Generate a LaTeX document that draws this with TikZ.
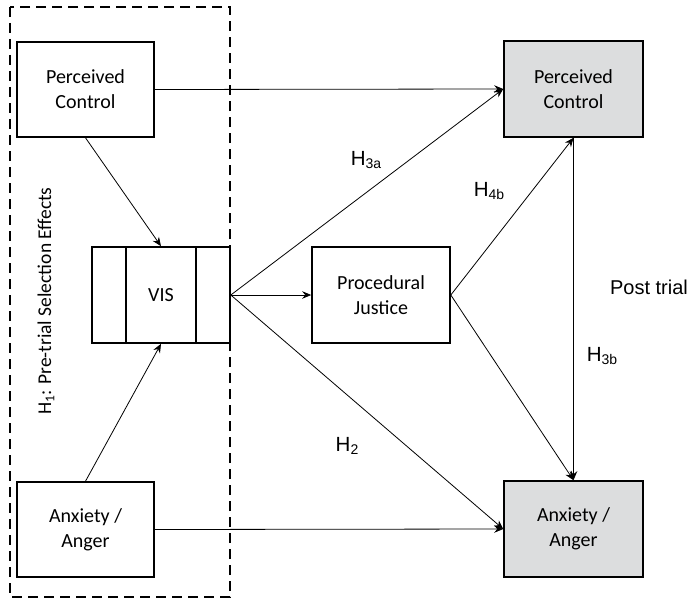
\documentclass[tikz,border=0pt]{standalone}
\usepackage{fontspec}
\setmainfont{Carlito}
\newfontfamily\arialf{Liberation Sans}
\usetikzlibrary{arrows.meta}
\definecolor{boxgray}{RGB}{220,221,222}
\tikzset{
  varbox/.style={draw=black, line width=1.6pt, minimum width=137pt, minimum height=95pt, inner sep=0pt, align=center, font=\fontsize{20}{25}\selectfont},
  outbox/.style={varbox, fill=boxgray, minimum width=139pt, minimum height=96pt},
  conn/.style={line width=0.8pt, -{Stealth[length=9pt,width=7.5pt,inset=3pt]}},
  hlab/.style={font=\arialf\fontsize{20.5}{24}\selectfont, inner sep=0pt}
}
\newcommand{\hsub}[1]{H\raisebox{-0.35ex}{\fontsize{14}{14}\selectfont #1}}
\begin{document}
\begin{tikzpicture}[x=1pt,y=-1pt]
\useasboundingbox (0,0) rectangle (692,599);
% dashed group
\draw[line width=1.5pt, dash pattern=on 10pt off 6pt] (10,7) rectangle (230,597);
% nodes
\node[varbox] (pc1) at (85.5,89.5) {Perceived\\Control};
\node[varbox] (an1) at (85.5,529.5) {Anxiety /\\Anger};
\node[varbox, minimum width=138pt, minimum height=96pt] (vis) at (161,295) {VIS};
\draw[line width=1.6pt] ([xshift=35pt]vis.north west) -- ([xshift=35pt]vis.south west);
\draw[line width=1.6pt] ([xshift=-35pt]vis.north east) -- ([xshift=-35pt]vis.south east);
\node[varbox, minimum width=138pt, minimum height=96pt] (pj) at (381,295) {Procedural\\Justice};
\node[outbox] (pc2) at (573.5,89) {Perceived\\Control};
\node[outbox] (an2) at (573.5,529) {Anxiety /\\Anger};
% connectors
\draw[conn] (pc1.east) -- (pc2.west);
\draw[conn] (an1.east) -- (an2.west);
\draw[conn] (pc1.south) -- (vis.north);
\draw[conn] (an1.north) -- (vis.south);
\draw[conn] (vis.east) -- (pc2.west);
\draw[conn] (vis.east) -- (pj.west);
\draw[conn] (vis.east) -- (an2.west);
\draw[conn] (pj.east) -- (pc2.south);
\draw[conn] (pj.east) -- (an2.north);
\draw[conn] (pc2.south) -- (an2.north);
% labels
\node[hlab] (h3a) at (366,160) {\hsub{3a}};
\node[hlab] (h4b) at (489,191) {\hsub{4b}};
\node[hlab] (h3b) at (602,356) {\hsub{3b}};
\node[hlab] (h2) at (347,446) {\hsub{2}};
\node[hlab, font=\arialf\fontsize{20}{24}\selectfont] (post) at (649,287) {Post trial};
\node[rotate=90, inner sep=0pt, font=\fontsize{19.5}{24}\selectfont] (h1) at (46,301) {H\raisebox{-0.35ex}{\fontsize{13.5}{14}\selectfont 1}: Pre-trial Selection Effects};
\end{tikzpicture}
\end{document}
